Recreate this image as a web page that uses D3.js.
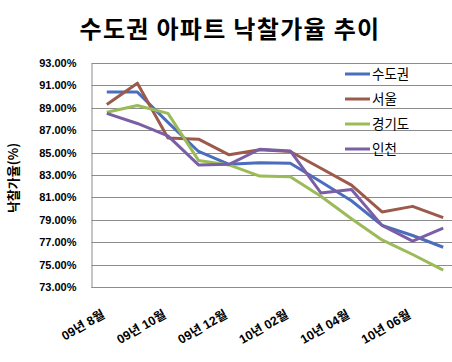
<!DOCTYPE html>
<html>
<head>
<meta charset="utf-8">
<script src="https://cdn.jsdelivr.net/npm/d3@7"></script>
<style>
  body { margin: 0; background: #fff; }
  svg { display: block; }
</style>
</head>
<body>
<svg width="452" height="362"></svg>
<script>
// chart data
var months = ["09년 8월", "09년 9월", "09년 10월", "09년 11월", "09년 12월", "10년 01월",
              "10년 02월", "10년 03월", "10년 04월", "10년 05월", "10년 06월", "10년 07월"];
var seriesNames = ["수도권", "서울", "경기도", "인천"];
var capital  = [90.4, 90.4, 87.7, 85.1, 83.95, 84.1, 84.05, 82.4, 80.7, 78.5, 77.6, 76.55];
var seoul    = [89.3, 91.2, 86.3, 86.2, 84.8, 85.25, 85.1, 83.6, 82.1, 79.7, 80.2, 79.2];
var gyeonggi = [88.6, 89.2, 88.5, 84.3, 83.9, 82.9, 82.85, 81.1, 79.1, 77.2, 75.9, 74.5];
var incheon  = [88.5, 87.6, 86.5, 83.9, 83.95, 85.3, 85.15, 81.4, 81.7, 78.5, 77.1, 78.25];
var yTicks = [73, 75, 77, 79, 81, 83, 85, 87, 89, 91, 93];

var seriesValues = [capital, seoul, gyeonggi, incheon];
var colors = ["#4a6dbd", "#9c5a4a", "#9bbb59", "#7b5ea6"];

var svg = d3.select("svg"),
    margin = { top: 63, left: 91.5 },
    width = 367,
    height = 224,
    g = svg.append("g").attr("transform", "translate(" + margin.left + "," + margin.top + ")");

var x = d3.scaleBand().domain(months).range([0, width]);
var y = d3.scaleLinear().domain([73, 93]).range([height, 0]);

// title
svg.append("text")
    .attr("x", 230)
    .attr("y", 37.5)
    .attr("text-anchor", "middle")
    .attr("font-family", "Noto Sans CJK KR, sans-serif")
    .attr("font-weight", "bold")
    .attr("font-size", 24)
    .attr("letter-spacing", 1.3)
    .attr("fill", "#000")
    .text("수도권 아파트 낙찰가율 추이");

// gridlines
g.append("g")
    .selectAll("line")
    .data(yTicks)
    .enter().append("line")
    .attr("x1", 0)
    .attr("x2", width)
    .attr("y1", function (d) { return Math.round(y(d)) + 0.5; })
    .attr("y2", function (d) { return Math.round(y(d)) + 0.5; })
    .attr("stroke", "#8c8c8c")
    .attr("stroke-width", 1);

// y axis
var axisY = g.append("g").call(d3.axisLeft(y).tickValues(yTicks).tickSize(0).tickPadding(15)
    .tickFormat(function (d) { return d.toFixed(2) + "%"; }));
axisY.select(".domain").attr("stroke", "#8c8c8c");
axisY.selectAll("text")
    .attr("font-family", "Liberation Sans, Arial, sans-serif")
    .attr("font-weight", "bold")
    .attr("font-size", 11)
    .attr("fill", "#000");

// x axis line
g.append("line")
    .attr("x1", 0).attr("x2", width)
    .attr("y1", height + 0.5).attr("y2", height + 0.5)
    .attr("stroke", "#8c8c8c");

// x labels, every second month
g.append("g")
    .selectAll("text")
    .data(months.filter(function (d, i) { return i % 2 == 0; }))
    .enter().append("text")
    .attr("transform", function (d) {
        return "translate(" + (x(d) + x.bandwidth() / 2 - 1) + "," + (height + 30) + ") rotate(-30)";
    })
    .attr("text-anchor", "end")
    .attr("font-family", "Liberation Sans, Noto Sans CJK KR, sans-serif")
    .attr("font-weight", "bold")
    .attr("font-size", 12.5)
    .attr("fill", "#000")
    .text(function (d) { return d; });

// y axis title
svg.append("text")
    .attr("transform", "translate(18,178) rotate(-90)")
    .attr("text-anchor", "middle")
    .attr("font-family", "Noto Sans CJK KR, sans-serif")
    .attr("font-weight", "bold")
    .attr("font-size", 13)
    .attr("fill", "#000")
    .text("낙찰가율(%)");

// lines
var line = d3.line()
    .x(function (d, i) { return x(months[i]) + x.bandwidth() / 2; })
    .y(function (d) { return y(d); });

g.append("g")
    .selectAll("path")
    .data(seriesValues)
    .enter().append("path")
    .attr("d", line)
    .attr("fill", "none")
    .attr("stroke", function (d, i) { return colors[i]; })
    .attr("stroke-width", 3)
    .attr("stroke-linejoin", "round");

// legend
var legend = svg.append("g")
    .selectAll("g")
    .data(seriesNames)
    .enter().append("g")
    .attr("transform", function (d, i) { return "translate(345," + (74 + i * 25) + ")"; });

legend.append("line")
    .attr("x1", 0).attr("x2", 25)
    .attr("stroke", function (d, i) { return colors[i]; })
    .attr("stroke-width", 3);

legend.append("text")
    .attr("x", 27)
    .attr("y", 5)
    .attr("font-family", "Noto Sans CJK KR, sans-serif")
    .attr("font-size", 13.5)
    .attr("fill", "#000")
    .text(function (d) { return d; });
</script>
</body>
</html>
